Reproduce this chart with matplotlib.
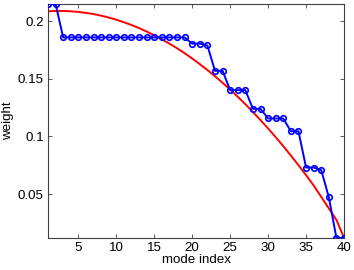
import numpy as np
import matplotlib
matplotlib.use("Agg")
import matplotlib.pyplot as plt

plt.rcParams['font.family'] = ['Liberation Sans', 'DejaVu Sans']

mode_index = np.arange(1, 41)

# stepwise weights (blue, with markers)
weights = [0.2150, 0.2150,
           0.1860, 0.1860, 0.1860, 0.1860, 0.1860, 0.1860, 0.1860, 0.1860,
           0.1860, 0.1860, 0.1860, 0.1860, 0.1860, 0.1860, 0.1860, 0.1860,
           0.1860,
           0.1806, 0.1806, 0.1790,
           0.1570, 0.1570,
           0.1402, 0.1402, 0.1402,
           0.1240, 0.1240,
           0.1156, 0.1156, 0.1156,
           0.1045, 0.1045,
           0.0730, 0.0730, 0.0708,
           0.0472,
           0.0118, 0.0118]

# smooth reference curve (red)
smooth = [0.2087, 0.2090, 0.2090, 0.2087, 0.2082, 0.2073, 0.2063, 0.2049,
          0.2033, 0.2014, 0.1992, 0.1968, 0.1941, 0.1911, 0.1879, 0.1844,
          0.1806, 0.1766, 0.1723, 0.1677, 0.1628, 0.1577, 0.1523, 0.1466,
          0.1407, 0.1345, 0.1280, 0.1212, 0.1142, 0.1069, 0.0994, 0.0915,
          0.0834, 0.0750, 0.0664, 0.0574, 0.0475, 0.0375, 0.0275, 0.0120]

fig = plt.figure(figsize=(3.54, 2.70), dpi=100)
ax = fig.add_axes([0.1356, 0.1185, 0.8362, 0.8665])

ax.plot(mode_index, weights, '-o', color='#0000ff', lw=1.4, ms=4,
        mfc='none', mew=1.2, zorder=3)
ax.plot(mode_index, smooth, '-', color='#ff0000', lw=1.4, zorder=2)

ax.set_xlim(1, 40)
ax.set_ylim(min(weights), max(weights))
ax.set_xticks([5, 10, 15, 20, 25, 30, 35, 40])
ax.set_yticks([0.05, 0.1, 0.15, 0.2])
ax.set_yticklabels(['0.05', '0.1', '0.15', '0.2'])

ax.tick_params(direction='in', length=3, width=0.6, top=True, right=True,
               labelsize=9.6, pad=3, color='#404040')
for s in ax.spines.values():
    s.set_color('#404040')
    s.set_linewidth(0.8)

ax.set_xlabel('mode index', fontsize=9.6, labelpad=0)
ax.set_ylabel('weight', fontsize=9.6, labelpad=3)

fig.savefig('out.png', dpi=100)
